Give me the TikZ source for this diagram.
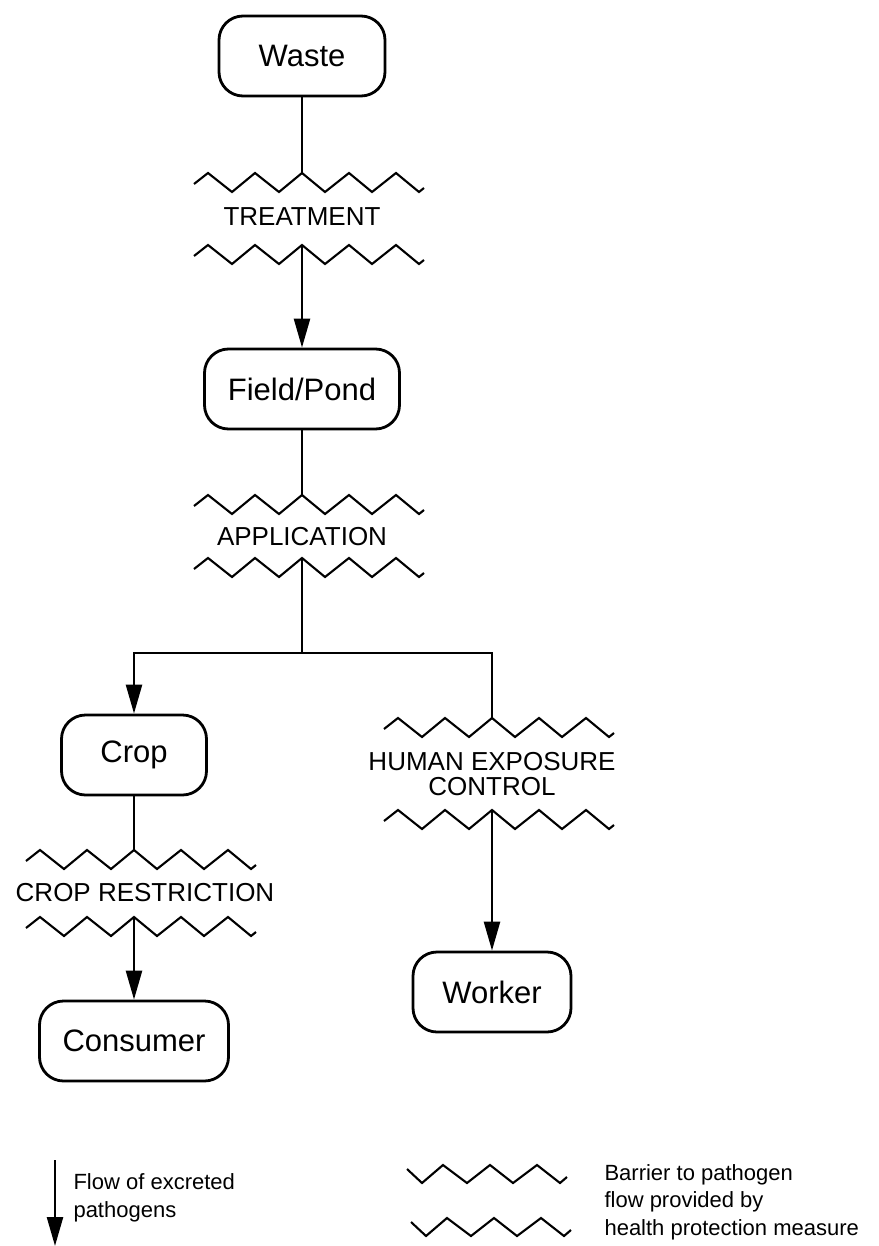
\documentclass[tikz,border=0pt]{standalone}
\usepackage{fontspec}
\setmainfont{Liberation Sans}
\usepackage{tikz}
\usetikzlibrary{arrows.meta, positioning}
\tikzstyle{stage} = [rectangle,
rounded corners=24pt,
minimum height=80pt,
text centered,
draw=black, line width=2.8pt,
font=\fontsize{31}{35}\selectfont]
\tikzstyle{measure} = [align=center,
font=\fontsize{26}{25}\selectfont]
\tikzstyle{legendtext} = [align=left, anchor=west,
font=\fontsize{22}{27.5}\selectfont]
\tikzstyle{line} = [line width=2.5pt]
\tikzstyle{arrow} = [line width=2.5pt,-{Triangle[length=29pt,width=16pt]}]
\tikzstyle{zig} = [line width=2.1pt]
\tikzset{
  barrier/.pic={\draw [zig] (-108,11) -- (-94,0) -- (-70,19) -- (-47,0) -- (-23,19) -- (0,0)
    -- (23,19) -- (47,0) -- (70,19) -- (94,0) -- (117,19) -- (122,15);},
  legbarrier/.pic={\draw [zig] (-36,4) -- (-21,18) -- (0,0) -- (24,18) -- (47,0)
    -- (70,18) -- (94,0) -- (117,18) -- (124,12);}
}

\begin{document}
\begin{tikzpicture}[x=1pt, y=-1pt]
            \useasboundingbox (0,0) rectangle (878,1246);
            % stages
            \node (waste) [stage, minimum width=166pt] at (302,56) {Waste};
            \node (field) [stage, minimum width=195pt] at (302,389) {Field/Pond};
            \node (crop) [stage, minimum width=145pt] at (134,755) {Crop};
            \node (consumer) [stage, minimum width=189pt] at (134,1041) {Consumer};
            \node (worker) [stage, minimum width=158pt] at (492,992) {Worker};

            % barriers
            \coordinate (z1) at (302,173);
            \coordinate (z2) at (302,245);
            \coordinate (z3) at (302,495);
            \coordinate (z4) at (302,558);
            \coordinate (z5) at (492,718);
            \coordinate (z6) at (492,810);
            \coordinate (z7) at (134,850);
            \coordinate (z8) at (134,917);
            \foreach \z in {z1,z2,z3,z4,z5,z6,z7,z8}
              \pic at (\z) {barrier};
            \node (treat) [measure] at (302,217) {TREATMENT};
            \node (appl) [measure] at (302,537) {APPLICATION};
            \node (hexp) [measure] at (492,774) {HUMAN EXPOSURE\\CONTROL};
            \node (crest) [measure] at (145,893) {CROP RESTRICTION};

            % flow
            \coordinate (split) at (302,653);
            \draw [line] (waste) -- (z1);
            \draw [arrow] (z2) -- (field);
            \draw [line] (field) -- (z3);
            \draw [line] (z4) -- (split);
            \draw [arrow] (split) -| (crop);
            \draw [line] (split) -| (z5);
            \draw [line] (crop) -- (z7);
            \draw [arrow] (z8) -- (consumer);
            \draw [arrow] (z6) -- (worker);

            % legend
            \coordinate (legtop) at (55,1160);
            \coordinate (legbot) at (55,1246);
            \draw [arrow] (legtop) -- (legbot);
            \node (legflow) [legendtext] at (70,1198) {Flow of excreted\\pathogens};
            \pic at (443,1165) {legbarrier};
            \pic at (447,1218) {legbarrier};
            \node (legbar) [legendtext] at (601,1202) {Barrier to pathogen\\flow provided by\\health protection measure};
        \end{tikzpicture}
\end{document}
